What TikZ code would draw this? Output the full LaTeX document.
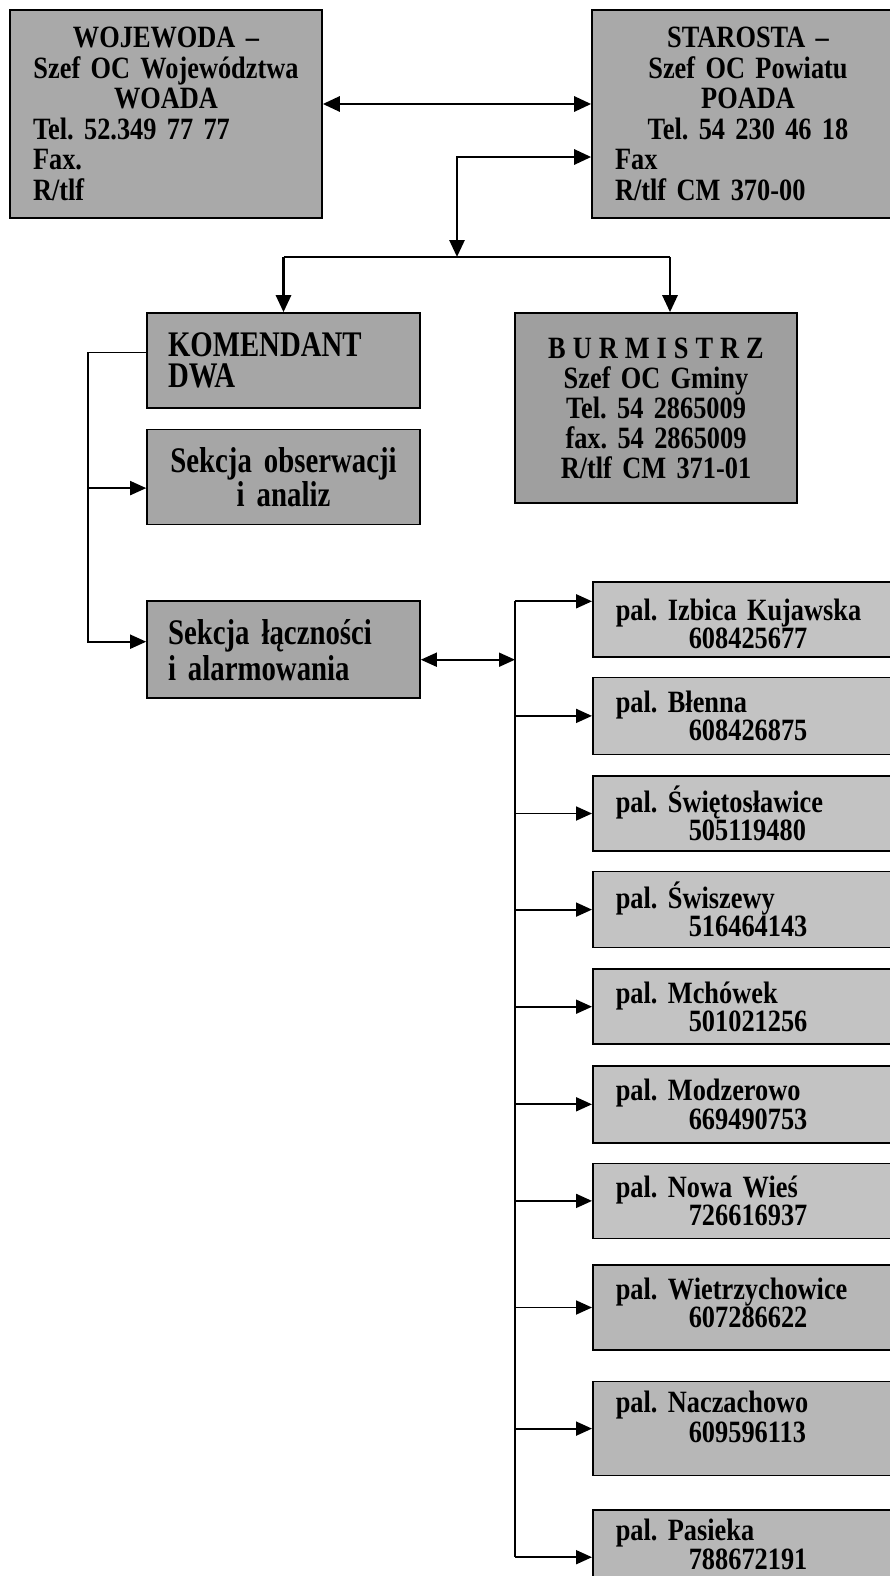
\documentclass[tikz,border=0pt]{standalone}
\usepackage{fontspec}
\setmainfont{Liberation Serif}[FakeStretch=0.85]
\newfontfamily\tallfont{Liberation Serif}[FakeStretch=0.8]
\usepackage{tikz}
\usetikzlibrary{arrows.meta,positioning,calc}
\definecolor{headgray}{HTML}{A9A9A9}
\definecolor{dwagray}{HTML}{A6A6A6}
\definecolor{gmgray}{HTML}{9F9F9F}
\definecolor{palgray}{HTML}{C3C3C3}
\definecolor{paldark}{HTML}{B7B7B7}
\newcommand{\lft}[1]{\makebox[266pt][l]{#1}}
\newcommand{\lift}[1]{\rule[-#1]{0pt}{1pt}}
\frenchspacing

\begin{document}
\begin{tikzpicture}[x=1pt, y=-1pt,
    cell/.style={draw=black, line width=1.6pt, inner ysep=0pt, text=black},
    headbox/.style={cell, fill=headgray, text width=266pt, inner xsep=23pt, minimum height=208pt,
                align=center, font=\bfseries\fontsize{31}{30.5}\selectfont},
    dwabox/.style={cell, fill=dwagray, text width=231pt, inner xsep=21pt, minimum height=95pt,
                font=\tallfont\bfseries\fontsize{36}{31}\selectfont},
    gmbox/.style={cell, fill=gmgray, text width=250pt, inner xsep=16pt, minimum height=190pt,
                align=center, font=\bfseries\fontsize{31}{30}\selectfont},
    palbox/.style={cell, fill=palgray, text width=266pt, inner xsep=23pt, minimum height=76pt,
                align=left, font=\bfseries\fontsize{31}{27}\selectfont},
    arrtop/.style={-{Triangle[length=17pt,width=15pt]}, line width=2.8pt},
    dbltop/.style={{Triangle[length=17pt,width=15pt]}-{Triangle[length=17pt,width=15pt]}, line width=2.8pt},
    arr/.style={-{Triangle[length=16pt,width=14pt]}, line width=1.8pt},
    dbl/.style={{Triangle[length=16pt,width=14pt]}-{Triangle[length=16pt,width=14pt]}, line width=1.8pt},
    wire/.style={line width=1.8pt}]
    \useasboundingbox (0,0) rectangle (890,1576);
    % head level
    \node[headbox] (woj) at (166,114) {WOJEWODA –\\Szef OC Województwa\\WOADA\\\lft{Tel. 52.349 77 77}\\\lft{Fax.}\\\lft{R/tlf}};
    \node[headbox] (star) at (748,114) {STAROSTA –\\Szef OC Powiatu\\POADA\\Tel. 54 230 46 18\\\lft{Fax}\\\lft{R/tlf CM 370-00}};
    \draw[dbltop] ($(woj.east)+(0,-10)$) -- ($(star.west)+(0,-10)$);
    \coordinate (hub) at (457,257);
    \coordinate (busr) at (670,257);
    \draw[dbltop] ($(star.west)+(0,43)$) -| (hub);
    % gmina level
    \node[dwabox, align=left] (kom) at (283.5,360.5) {KOMENDANT\\DWA};
    \node[gmbox] (burm) at (656,408) {{\spaceskip=7pt B U R M I S T R Z}\\Szef OC Gminy\\Tel. 54 2865009\\fax. 54 2865009\\R/tlf CM 371-01};
    \draw[wire, line width=2.8pt] (hub -| kom.north) -- (busr);
    \draw[arrtop] (hub -| kom.north) -- (kom.north);
    \draw[arrtop] (busr) -- (busr |- burm.north);
    \node[dwabox, align=center, below=20pt of kom, font=\tallfont\bfseries\fontsize{36}{34}\selectfont] (obs) {Sekcja obserwacji\\i analiz};
    \node[dwabox, align=left, minimum height=97pt, below=75pt of obs, font=\tallfont\bfseries\fontsize{36}{36}\selectfont] (lacz) {Sekcja łączności\\i alarmowania};
    \coordinate (lb) at (88,0);
    \draw[arr] ($(kom.west)+(0,-8)$) -| ($(lb |- lacz.west)+(0,-8)$) -- ($(lacz.west)+(0,-8)$);
    \draw[arr] ($(lb |- obs.west)+(0,11)$) -- ($(obs.west)+(0,11)$);
    % posterunki
    \node[palbox, minimum height=75pt, anchor=north west, font=\bfseries\fontsize{31}{24}\selectfont] (p1) at (592,581) {\rule{0pt}{30pt}pal. Izbica Kujawska\\\hspace*{73pt}608425677};
    \node[palbox, minimum height=77pt, below=19pt of p1, font=\bfseries\fontsize{31}{25}\selectfont] (p2) {pal. Błenna\\\hspace*{73pt}608426875};
    \node[palbox, minimum height=75pt, below=20pt of p2] (p3) {pal. Świętosławice\\\hspace*{73pt}505119480};
    \node[palbox, below=19pt of p3] (p4) {pal. Świszewy\\\hspace*{73pt}516464143};
    \node[palbox, minimum height=75pt, below=20pt of p4] (p5) {pal. Mchówek\\\hspace*{73pt}501021256};
    \node[palbox, minimum height=77pt, below=20pt of p5] (p6) {pal. Modzerowo\\\hspace*{73pt}669490753};
    \node[palbox, minimum height=75pt, below=19pt of p6] (p7) {pal. Nowa Wieś\\\hspace*{73pt}726616937};
    \node[palbox, fill=paldark, minimum height=85pt, below=25pt of p7, font=\bfseries\fontsize{31}{28}\selectfont] (p8) {pal. Wietrzychowice\\\hspace*{73pt}607286622\lift{10pt}};
    \node[palbox, fill=paldark, minimum height=94pt, below=30pt of p8, font=\bfseries\fontsize{31}{30}\selectfont] (p9) {pal. Naczachowo\\\hspace*{73pt}609596113\lift{24pt}};
    \node[palbox, fill=paldark, minimum height=94pt, below=33pt of p9, font=\bfseries\fontsize{31}{29}\selectfont] (p10) {pal. Pasieka\\\hspace*{73pt}788672191\lift{26pt}};
    \coordinate (rb) at (515,0);
    \draw[dbl] ($(lacz.east)+(0,10)$) -- ($(rb |- lacz.east)+(0,10)$);
    \draw[wire] ($(rb |- p1.west)+(0,-18)$) -- (rb |- p10.west);
    \draw[arr] ($(rb |- p1.west)+(0,-18)$) -- ($(p1.west)+(0,-18)$);
    \foreach \p in {p2,p3,p4,p5,p6,p7,p8,p9,p10}
      \draw[arr] (rb |- \p.west) -- (\p.west);
\end{tikzpicture}
\end{document}
